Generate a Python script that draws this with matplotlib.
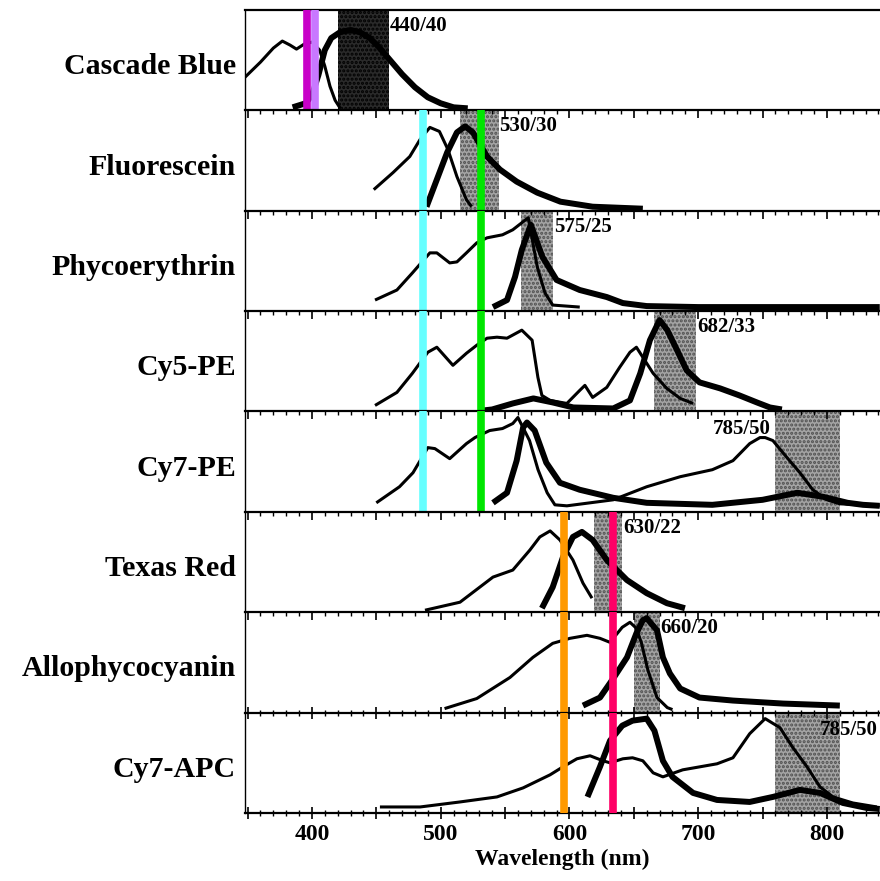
import matplotlib
matplotlib.use("Agg")
import matplotlib.pyplot as plt
from matplotlib.ticker import MultipleLocator, FuncFormatter

# dyes, top to bottom
dyes = ["Cascade Blue", "Fluorescein", "Phycoerythrin", "Cy5-PE",
        "Cy7-PE", "Texas Red", "Allophycocyanin", "Cy7-APC"]

# band pass filters (center / width, nm)
filter_names = ["440/40", "530/30", "575/25", "682/33",
                "785/50", "630/22", "660/20", "785/50"]
filter_center = [440, 530, 575, 682, 785, 630, 660, 785]
filter_width = [40, 30, 25, 33, 50, 22, 20, 50]

# excitation (thin) and emission (thick) spectra
cb_ex_nm = [348, 360, 370, 377, 383, 388, 394, 400, 406, 410, 414, 418, 422]
cb_ex_y = [0.33, 0.48, 0.62, 0.69, 0.65, 0.61, 0.66, 0.68, 0.60, 0.44, 0.24, 0.10, 0.02]
cb_em_nm = [385, 395, 400, 405, 410, 415, 422, 430, 437, 445, 452, 460, 470, 480, 490, 500, 510, 521]
cb_em_y = [0.03, 0.07, 0.15, 0.35, 0.60, 0.72, 0.78, 0.80, 0.78, 0.72, 0.63, 0.51, 0.36, 0.23, 0.13, 0.07, 0.03, 0.02]

fl_ex_nm = [448, 463, 476, 484, 491.6, 499, 505.6, 512.6, 520, 524]
fl_ex_y = [0.21, 0.38, 0.54, 0.71, 0.83, 0.79, 0.61, 0.34, 0.11, 0.04]
fl_em_nm = [489, 497, 505, 512.6, 519, 525, 536, 546, 559, 575, 593, 618, 657]
fl_em_y = [0.04, 0.31, 0.58, 0.78, 0.84, 0.78, 0.54, 0.41, 0.29, 0.18, 0.09, 0.04, 0.02]

pe_ex_nm = [449, 466, 478, 491.6, 497, 507, 512.6, 520, 528, 536, 548, 556, 563, 568,
            575, 581, 587, 608]
pe_ex_y = [0.11, 0.21, 0.38, 0.58, 0.58, 0.48, 0.49, 0.58, 0.68, 0.73, 0.76, 0.81, 0.88, 0.93,
           0.44, 0.18, 0.06, 0.04]
pe_em_nm = [540.6, 551.5, 557.7, 563, 570, 579, 590, 608, 629, 641.5, 660, 700, 841]
pe_em_y = [0.04, 0.11, 0.34, 0.61, 0.86, 0.54, 0.31, 0.21, 0.14, 0.08, 0.05, 0.04, 0.04]

c5_ex_nm = [449, 466, 478, 490, 497, 509.5, 520, 528, 536, 543.7, 551.5, 563, 571, 575.5,
            578.6, 585, 598, 608, 612, 618, 629, 639, 647, 652, 657, 665, 675.6, 686, 696]
c5_ex_y = [0.06, 0.19, 0.38, 0.59, 0.64, 0.46, 0.58, 0.66, 0.73, 0.74, 0.73, 0.81, 0.71, 0.34,
           0.16, 0.11, 0.08, 0.21, 0.26, 0.14, 0.24, 0.44, 0.59, 0.64, 0.54, 0.38, 0.23, 0.13, 0.08]
c5_em_nm = [533, 540, 556, 572, 587, 603, 634, 647, 655, 662.5, 670, 676, 683.6, 691, 701,
            717, 732, 745.6, 755.7, 765]
c5_em_y = [0.01, 0.02, 0.08, 0.13, 0.09, 0.04, 0.03, 0.11, 0.38, 0.71, 0.91, 0.81, 0.61, 0.41,
           0.29, 0.23, 0.16, 0.09, 0.04, 0.02]

c7pe_ex_nm = [450, 468, 478.5, 490, 495.5, 507, 520, 526.6, 538, 548, 556, 560, 569, 575.6,
              582.7, 588.7, 598, 634, 660, 686, 711, 727, 740, 748, 752, 758, 769, 779, 789,
              800, 810, 825.6, 841]
c7pe_ex_y = [0.09, 0.25, 0.39, 0.64, 0.63, 0.53, 0.68, 0.74, 0.81, 0.83, 0.88, 0.94, 0.71, 0.42,
             0.19, 0.07, 0.06, 0.12, 0.25, 0.35, 0.42, 0.51, 0.68, 0.74, 0.74, 0.71, 0.54, 0.39,
             0.22, 0.12, 0.08, 0.07, 0.06]
c7pe_em_nm = [540.6, 551.5, 559, 564, 567, 573, 582, 592.6, 608, 634, 660, 711, 750, 777,
              797, 816, 828, 841]
c7pe_em_y = [0.09, 0.19, 0.51, 0.84, 0.89, 0.81, 0.49, 0.29, 0.22, 0.14, 0.09, 0.07, 0.12, 0.19,
             0.15, 0.09, 0.07, 0.06]

tr_ex_nm = [487.8, 515, 540.6, 556, 569.3, 577, 585, 592.6, 602.7, 610.5, 617.5]
tr_ex_y = [0.02, 0.10, 0.35, 0.42, 0.62, 0.75, 0.81, 0.72, 0.52, 0.29, 0.14]
tr_em_nm = [578.6, 587, 595, 602.7, 609.7, 618, 629, 644.7, 660, 675.7, 689.7]
tr_em_y = [0.04, 0.25, 0.55, 0.75, 0.80, 0.72, 0.52, 0.32, 0.19, 0.09, 0.04]

apc_ex_nm = [503, 528, 553.8, 571.6, 587, 600.4, 613.6, 623.7, 631.5, 641, 647, 652, 656,
             661, 668, 676, 680]
apc_ex_y = [0.04, 0.14, 0.35, 0.55, 0.69, 0.74, 0.77, 0.74, 0.70, 0.85, 0.90, 0.84, 0.69,
            0.42, 0.15, 0.05, 0.03]
apc_em_nm = [610.5, 623.7, 634, 644.7, 652, 657, 660, 668, 672.6, 678, 686, 701, 727, 766, 810]
apc_em_y = [0.07, 0.15, 0.34, 0.55, 0.79, 0.92, 0.94, 0.82, 0.55, 0.39, 0.24, 0.15, 0.12,
            0.09, 0.07]

c7apc_ex_nm = [452.8, 484, 515, 543.7, 564, 584.9, 595, 605.8, 616, 626, 631.5, 641.5, 649,
               657, 665, 672.6, 688, 714.6, 727, 740, 752, 763.5, 773.6, 784.5, 794.6, 804.7,
               820, 838.8]
c7apc_ex_y = [0.06, 0.06, 0.11, 0.16, 0.25, 0.38, 0.46, 0.54, 0.57, 0.52, 0.50, 0.54, 0.55,
              0.52, 0.40, 0.36, 0.43, 0.49, 0.55, 0.79, 0.94, 0.85, 0.65, 0.46, 0.26, 0.16,
              0.10, 0.06]
c7apc_em_nm = [614, 623.7, 631.5, 641, 649, 660, 666, 672.6, 680, 696, 714.6, 740, 758, 779,
               794.6, 812.4, 831, 841]
c7apc_em_y = [0.16, 0.46, 0.72, 0.87, 0.92, 0.94, 0.82, 0.52, 0.36, 0.20, 0.13, 0.11, 0.16,
              0.23, 0.20, 0.10, 0.05, 0.04]

ex_nm = [cb_ex_nm, fl_ex_nm, pe_ex_nm, c5_ex_nm, c7pe_ex_nm, tr_ex_nm, apc_ex_nm, c7apc_ex_nm]
ex_y = [cb_ex_y, fl_ex_y, pe_ex_y, c5_ex_y, c7pe_ex_y, tr_ex_y, apc_ex_y, c7apc_ex_y]
em_nm = [cb_em_nm, fl_em_nm, pe_em_nm, c5_em_nm, c7pe_em_nm, tr_em_nm, apc_em_nm, c7apc_em_nm]
em_y = [cb_em_y, fl_em_y, pe_em_y, c5_em_y, c7pe_em_y, tr_em_y, apc_em_y, c7apc_em_y]

# laser lines: wavelength, colour, first and last panel they cross
laser_nm = [396.5, 402, 486, 531, 596, 634]
laser_color = ["#c800c8", "#c878ff", "#66ffff", "#00e600", "#ff9900", "#ff0066"]
laser_first = [0, 0, 1, 1, 5, 5]
laser_last = [0, 0, 4, 4, 7, 7]

serif = "Liberation Serif"
plt.rcParams["hatch.linewidth"] = 1.5

fig, axes = plt.subplots(8, 1, figsize=(8.8, 8.81), dpi=100, sharex=True,
                         gridspec_kw=dict(hspace=0))
fig.subplots_adjust(left=0.2784, right=1.0, top=0.9887, bottom=0.0772)

for i, ax in enumerate(axes):
    ax.set_xlim(348, 841.2)
    ax.set_ylim(0, 1)
    ax.set_yticks([])
    for s in ["right", "bottom"]:
        ax.spines[s].set_visible(False)
    ax.spines["top"].set_linewidth(1.6)
    ax.spines["left"].set_linewidth(1.0)

    # filter band (stippled)
    lo = filter_center[i] - filter_width[i] / 2
    hi = filter_center[i] + filter_width[i] / 2
    if i == 0:
        ax.axvspan(lo, hi, facecolor="#2a2a2a", edgecolor="#000000",
                   hatch="....", lw=0, zorder=1)
    else:
        ax.axvspan(lo, hi, facecolor="#a4a4a4", edgecolor="#505050",
                   hatch="....", lw=0, zorder=1)

    ax.plot(ex_nm[i], ex_y[i], color="black", lw=2.2, zorder=2,
            solid_joinstyle="round", solid_capstyle="butt")
    ax.plot(em_nm[i], em_y[i], color="black", lw=4.3, zorder=2,
            solid_joinstyle="round", solid_capstyle="butt")

    for nm, c, a, b in zip(laser_nm, laser_color, laser_first, laser_last):
        if a <= i <= b:
            ax.axvline(nm, color=c, lw=5.5, zorder=3)

    # filter label
    if i == 4:
        ax.text(lo - 4, 0.83, filter_names[i], ha="right", va="center",
                fontsize=15, fontweight="bold", family=serif, zorder=4)
    elif i == 7:
        ax.text(794.6, 0.83, filter_names[i], ha="left", va="center",
                fontsize=15, fontweight="bold", family=serif, zorder=4)
    else:
        ax.text(hi + 0.5, 0.84, filter_names[i], ha="left", va="center",
                fontsize=15, fontweight="bold", family=serif, zorder=4)

    ax.text(-0.014, 0.36, dyes[i], transform=ax.transAxes, ha="right",
            va="baseline", fontsize=21.5, fontweight="bold", family=serif)

    ax.xaxis.set_major_locator(MultipleLocator(50))
    ax.xaxis.set_minor_locator(MultipleLocator(10))
    if i > 0:
        ax.tick_params(axis="x", which="both", top=True, bottom=False,
                       direction="in", labelbottom=False)
    else:
        ax.tick_params(axis="x", which="both", top=False, bottom=False,
                       labelbottom=False)
    ax.tick_params(axis="x", which="major", length=6, width=1.2)
    ax.tick_params(axis="x", which="minor", length=3, width=1.0)

# bottom axis
last = axes[-1]
last.spines["bottom"].set_visible(True)
last.spines["bottom"].set_linewidth(1.6)
last.tick_params(axis="x", which="both", bottom=True, direction="inout",
                 labelbottom=True)
last.tick_params(axis="x", which="major", length=8, pad=4)
last.tick_params(axis="x", which="minor", length=4)
last.xaxis.set_major_formatter(FuncFormatter(
    lambda v, p: f"{int(v)}" if int(round(v)) % 100 == 0 else ""))
for lab in last.get_xticklabels():
    lab.set_fontfamily(serif)
    lab.set_fontweight("bold")
    lab.set_fontsize(17)
last.set_xlabel("Wavelength (nm)", fontsize=17, fontweight="bold",
                family=serif, labelpad=3)

fig.savefig("out.png", dpi=100)
